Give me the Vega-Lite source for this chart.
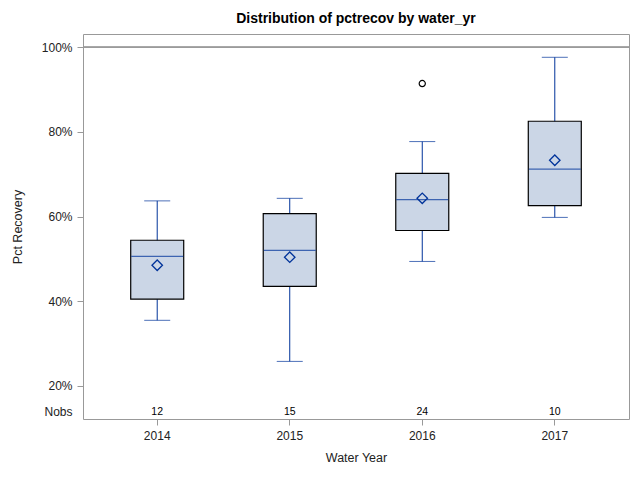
{
  "$schema": "https://vega.github.io/schema/vega-lite/v6.json",
  "autosize": "none",
  "width": 546,
  "height": 385,
  "padding": {"left": 83, "top": 34, "right": 11, "bottom": 61},
  "background": "white",
  "title": {
    "text": "Distribution of pctrecov by water_yr",
    "font": "Liberation Sans",
    "fontSize": 14,
    "fontWeight": "bold",
    "color": "#000000",
    "anchor": "middle",
    "offset": 8
  },
  "config": {
    "view": {"stroke": "#999999", "strokeWidth": 1},
    "axis": {
      "domain": false,
      "grid": false,
      "tickColor": "#999999",
      "tickSize": 6,
      "labelFont": "Liberation Sans",
      "labelFontSize": 12,
      "labelColor": "#222222",
      "titleFont": "Liberation Sans",
      "titleFontSize": 12.5,
      "titleFontWeight": "normal",
      "titleColor": "#222222"
    }
  },
  "datasets": {
    "stats": [
      {"year": "2014", "lo": 0.355, "q1": 0.405, "median": 0.506, "mean": 0.485, "q3": 0.544, "hi": 0.637, "n": 12},
      {"year": "2015", "lo": 0.258, "q1": 0.435, "median": 0.520, "mean": 0.504, "q3": 0.607, "hi": 0.643, "n": 15},
      {"year": "2016", "lo": 0.494, "q1": 0.567, "median": 0.640, "mean": 0.643, "q3": 0.702, "hi": 0.777, "n": 24},
      {"year": "2017", "lo": 0.598, "q1": 0.626, "median": 0.712, "mean": 0.733, "q3": 0.825, "hi": 0.976, "n": 10}
    ],
    "outliers": [
      {"year": "2016", "value": 0.914}
    ]
  },
  "data": {"name": "stats"},
  "encoding": {
    "x": {
      "field": "year",
      "type": "ordinal",
      "scale": {"type": "band", "paddingInner": 0, "paddingOuter": 0.06},
      "axis": {"title": "Water Year", "labelAngle": 0, "labelPadding": 5, "titlePadding": 10}
    }
  },
  "layer": [
    {
      "mark": {"type": "rule", "color": "#999999", "strokeWidth": 1},
      "encoding": {
        "x": {"value": 0},
        "x2": {"value": 546},
        "y": {"datum": 1.0}
      }
    },
    {
      "mark": {"type": "rule", "color": "#00339a", "strokeWidth": 1},
      "encoding": {
        "y": {
          "field": "lo",
          "type": "quantitative",
          "scale": {"domain": [0.122, 1.031], "nice": false, "zero": false},
          "axis": {
            "title": "Pct Recovery",
            "values": [0.1393, 0.2, 0.4, 0.6, 0.8, 1.0],
            "labelExpr": "datum.value < 0.18 ? 'Nobs' : format(datum.value, '.0%')",
            "tickOpacity": {"condition": {"test": "datum.value < 0.18", "value": 0}, "value": 1},
            "labelPadding": 5,
            "titlePadding": 17
          }
        },
        "y2": {"field": "hi"}
      }
    },
    {
      "mark": {"type": "tick", "color": "#00339a", "size": 26, "thickness": 1},
      "encoding": {"y": {"field": "lo", "type": "quantitative"}}
    },
    {
      "mark": {"type": "tick", "color": "#00339a", "size": 26, "thickness": 1},
      "encoding": {"y": {"field": "hi", "type": "quantitative"}}
    },
    {
      "mark": {"type": "bar", "size": 53, "fill": "#cbd6e6", "stroke": "#000000", "strokeWidth": 1.2},
      "encoding": {
        "y": {"field": "q1", "type": "quantitative"},
        "y2": {"field": "q3"}
      }
    },
    {
      "mark": {"type": "tick", "color": "#00339a", "size": 52, "thickness": 1.2},
      "encoding": {"y": {"field": "median", "type": "quantitative"}}
    },
    {
      "mark": {"type": "point", "shape": "diamond", "filled": false, "size": 110, "stroke": "#00339a", "strokeWidth": 1.3, "opacity": 1},
      "encoding": {"y": {"field": "mean", "type": "quantitative"}}
    },
    {
      "data": {"name": "outliers"},
      "mark": {"type": "point", "shape": "circle", "filled": false, "size": 38, "stroke": "#000000", "strokeWidth": 1.2, "opacity": 1},
      "encoding": {"y": {"field": "value", "type": "quantitative"}}
    },
    {
      "mark": {"type": "text", "font": "Liberation Sans", "fontSize": 10.5, "color": "#000000", "baseline": "middle", "align": "center"},
      "encoding": {
        "y": {"datum": 0.1393},
        "text": {"field": "n", "type": "nominal"}
      }
    }
  ]
}
